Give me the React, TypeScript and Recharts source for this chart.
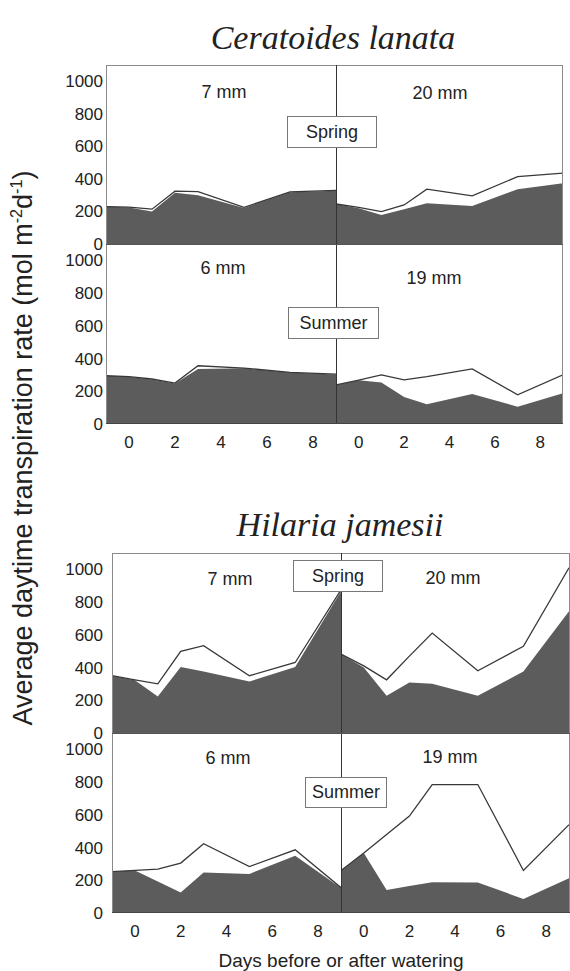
import React from 'react';
import { ComposedChart, Area, Line, XAxis, YAxis } from 'recharts';

const days = [-1, 0, 1, 2, 3, 5, 7, 9];
const xTicks = [0, 2, 4, 6, 8];
const yTicks = [0, 200, 400, 600, 800, 1000];

// Ceratoides lanata
const cerSpring7Upper = [230, 226, 214, 325, 322, 225, 320, 330];
const cerSpring7Lower = [230, 224, 199, 315, 300, 222, 318, 328];
const cerSpring20Upper = [246, 225, 199, 240, 337, 296, 414, 435];
const cerSpring20Lower = [246, 220, 178, 214, 250, 234, 337, 374];
const cerSummer6Upper = [295, 290, 275, 250, 356, 342, 315, 305];
const cerSummer6Lower = [295, 288, 272, 248, 336, 340, 314, 303];
const cerSummer19Upper = [239, 268, 300, 270, 290, 337, 178, 300];
const cerSummer19Lower = [239, 268, 253, 165, 121, 184, 106, 188];

// Hilaria jamesii
const hilSpring7Upper = [350, 325, 300, 499, 534, 350, 431, 875];
const hilSpring7Lower = [350, 322, 223, 403, 376, 315, 403, 867];
const hilSpring20Upper = [483, 410, 325, 470, 611, 380, 530, 1010];
const hilSpring20Lower = [483, 400, 227, 309, 301, 227, 376, 744];
const hilSummer6Upper = [253, 260, 268, 305, 423, 284, 386, 155];
const hilSummer6Lower = [253, 260, 192, 126, 247, 239, 350, 153];
const hilSummer19Upper = [260, 366, 479, 592, 785, 785, 260, 540];
const hilSummer19Lower = [260, 366, 141, 165, 188, 186, 86, 213];

const sans = '"Liberation Sans", Arial, sans-serif';
const serif = '"Liberation Serif", "Times New Roman", serif';

type PanelProps = {
  upper: number[];
  lower: number[];
  x: number;
  y: number;
  w: number;
  h: number;
  yLabels?: boolean;
  xLabels?: boolean;
  yGap?: number;
};

function Panel({ upper, lower, x, y, w, h, yLabels, xLabels, yGap = 3 }: PanelProps) {
  const data = days.map((d, i) => ({ day: d, upper: upper[i], lower: lower[i] }));
  const yW = yLabels ? 60 : 0;
  const xH = xLabels ? 30 : 0;
  const extra = xLabels ? 0 : 12; // room for the "0" label under spring panels
  return (
    <div style={{ position: 'absolute', left: x - yW, top: y }}>
      <ComposedChart width={w + yW} height={h + xH + extra} data={data} margin={{ top: 0, right: 0, bottom: extra, left: 0 }}>
        <XAxis
          dataKey="day"
          type="number"
          domain={[-1, 9]}
          ticks={xTicks}
          hide={!xLabels}
          height={xH}
          axisLine={false}
          tickLine={false}
          tickSize={0}
          tickMargin={12}
          interval={0}
          tick={{ fontSize: 17, fill: '#222', fontFamily: sans }}
        />
        {yLabels ? (
          <YAxis
            type="number"
            domain={[0, 1100]}
            ticks={yTicks}
            width={yW}
            axisLine={false}
            tickLine={false}
            tickSize={0}
            tickMargin={yGap}
            interval={0}
            tick={{ fontSize: 17, fill: '#222', fontFamily: sans }}
          />
        ) : (
          <YAxis
            type="number"
            domain={[0, 1100]}
            ticks={yTicks}
            width={0}
            mirror
            axisLine={false}
            tickLine={{ stroke: '#777' }}
            tickSize={4}
            interval={0}
            tickFormatter={() => ''}
          />
        )}
        <Area dataKey="lower" type="linear" fill="#5c5c5c" fillOpacity={1} stroke="none" isAnimationActive={false} />
        <Line dataKey="upper" type="linear" stroke="#383838" strokeWidth={1.3} dot={false} isAnimationActive={false} />
      </ComposedChart>
    </div>
  );
}

function Txt({ x, y, children, size = 18 }: { x: number; y: number; children: React.ReactNode; size?: number }) {
  return (
    <div style={{ position: 'absolute', left: x, top: y, transform: 'translate(-50%, -50%)', fontFamily: sans, fontSize: size, color: '#222', whiteSpace: 'nowrap', lineHeight: 1 }}>
      {children}
    </div>
  );
}

function Box({ x1, x2, y1, y2, text }: { x1: number; x2: number; y1: number; y2: number; text: string }) {
  return (
    <div style={{ position: 'absolute', left: x1, top: y1, width: x2 - x1, height: y2 - y1, boxSizing: 'border-box', border: '1px solid #777', background: '#fff', display: 'flex', alignItems: 'center', justifyContent: 'center', fontFamily: sans, fontSize: 18, color: '#222' }}>
      {text}
    </div>
  );
}

function Frame({ left, mid, right, top, midY, bottom }: { left: number; mid: number; right: number; top: number; midY: number; bottom: number }) {
  return (
    <>
      <div style={{ position: 'absolute', left, top, width: right - left, height: bottom - top, boxSizing: 'border-box', border: '1px solid #8a8a8a' }} />
      <div style={{ position: 'absolute', left: mid, top, width: 1, height: bottom - top, background: '#333' }} />
      <div style={{ position: 'absolute', left, top: midY, width: right - left, height: 1, background: '#555' }} />
      <div style={{ position: 'absolute', left, top: bottom - 1, width: right - left, height: 1, background: '#444' }} />
    </>
  );
}

export default function App() {
  return (
    <div style={{ position: 'absolute', left: 0, top: 0, width: 570, height: 971, background: '#fff', overflow: 'hidden' }}>
      <div style={{ position: 'absolute', left: 333, top: 38, transform: 'translate(-50%, -50%)', fontFamily: serif, fontStyle: 'italic', fontSize: 34, color: '#222', whiteSpace: 'nowrap' }}>
        Ceratoides lanata
      </div>
      <div style={{ position: 'absolute', left: 340, top: 525, transform: 'translate(-50%, -50%)', fontFamily: serif, fontStyle: 'italic', fontSize: 34, color: '#222', whiteSpace: 'nowrap' }}>
        Hilaria jamesii
      </div>

      <Panel upper={cerSpring7Upper} lower={cerSpring7Lower} x={106} y={65} w={230} h={179} yLabels />
      <Panel upper={cerSpring20Upper} lower={cerSpring20Lower} x={336} y={65} w={227} h={179} />
      <Panel upper={cerSummer6Upper} lower={cerSummer6Lower} x={106} y={244} w={230} h={180} yLabels xLabels />
      <Panel upper={cerSummer19Upper} lower={cerSummer19Lower} x={336} y={244} w={227} h={180} xLabels />
      <Frame left={106} mid={336} right={563} top={65} midY={244} bottom={424} />

      <Panel upper={hilSpring7Upper} lower={hilSpring7Lower} x={112} y={553} w={229} h={180} yLabels yGap={9} />
      <Panel upper={hilSpring20Upper} lower={hilSpring20Lower} x={341} y={553} w={228} h={180} />
      <Panel upper={hilSummer6Upper} lower={hilSummer6Lower} x={112} y={733} w={229} h={180} yLabels xLabels yGap={9} />
      <Panel upper={hilSummer19Upper} lower={hilSummer19Lower} x={341} y={733} w={228} h={180} xLabels />
      <Frame left={112} mid={341} right={570} top={553} midY={733} bottom={913} />

      <Txt x={224} y={92}>7 mm</Txt>
      <Txt x={440} y={93}>20 mm</Txt>
      <Txt x={223} y={268}>6 mm</Txt>
      <Txt x={434} y={278}>19 mm</Txt>
      <Txt x={230} y={579}>7 mm</Txt>
      <Txt x={453} y={578}>20 mm</Txt>
      <Txt x={228} y={758}>6 mm</Txt>
      <Txt x={450} y={757}>19 mm</Txt>

      <Box x1={287} x2={377} y1={116} y2={148} text="Spring" />
      <Box x1={288} x2={379} y1={307} y2={339} text="Summer" />
      <Box x1={293} x2={383} y1={560} y2={592} text="Spring" />
      <Box x1={305} x2={387} y1={777} y2={808} text="Summer" />

      <div style={{ position: 'absolute', left: 22, top: 448, transform: 'translate(-50%, -50%) rotate(-90deg)', fontFamily: sans, fontSize: 27, color: '#222', whiteSpace: 'nowrap', lineHeight: 1 }}>
        Average daytime transpiration rate (mol m<sup style={{ fontSize: '0.6em' }}>-2</sup>d<sup style={{ fontSize: '0.6em' }}>-1</sup>)
      </div>
      <Txt x={341} y={960} size={19}>Days before or after watering</Txt>
    </div>
  );
}
